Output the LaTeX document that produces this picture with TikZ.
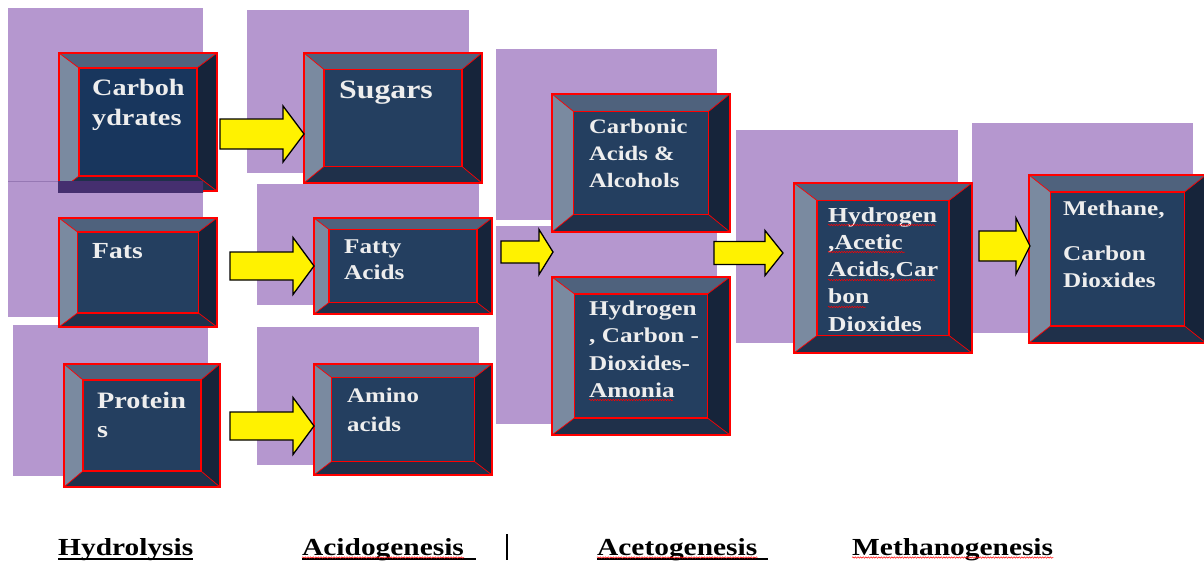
\documentclass[tikz,border=0pt]{standalone}
\usepackage{fontspec}
\setmainfont{Liberation Serif}
\newfontfamily\boxfont[FakeStretch=1.2]{Liberation Serif}
\usetikzlibrary{fit,calc,decorations.pathmorphing}

\definecolor{lilac}{RGB}{181,151,207}
\definecolor{lilacedge}{RGB}{150,120,180}
\definecolor{lilacband}{RGB}{69,47,111}
\definecolor{face}{RGB}{36,63,96}
\definecolor{facedeep}{RGB}{24,54,93}
\definecolor{bevtop}{RGB}{79,98,125}
\definecolor{bevleft}{RGB}{122,138,160}
\definecolor{bevright}{RGB}{22,36,58}
\definecolor{bevbottom}{RGB}{31,48,74}
\definecolor{boxtext}{RGB}{238,238,238}

% top-aligned lines, so that the node base is the first baseline
\newcommand{\boxlines}[1]{\begin{tabular}[t]{@{}l@{}}#1\end{tabular}}

\tikzset{
  bevx/.store in=\bevx, bevy/.store in=\bevy, bevx=20pt, bevy=15pt,
  abody/.store in=\abody, ahead/.store in=\ahead, alen/.store in=\alen,
  abody=14pt, ahead=28pt, alen=21pt,
  bevelbox/.style={draw=red, line width=1.4pt, fill=face, inner sep=0pt, outer sep=0pt,
    path picture={
      \coordinate (bnw) at (path picture bounding box.north west);
      \coordinate (bne) at (path picture bounding box.north east);
      \coordinate (bse) at (path picture bounding box.south east);
      \coordinate (bsw) at (path picture bounding box.south west);
      \coordinate (bnw2) at ([xshift=\bevx,yshift=-\bevy]bnw);
      \coordinate (bne2) at ([xshift=-\bevx,yshift=-\bevy]bne);
      \coordinate (bse2) at ([xshift=-\bevx,yshift=\bevy]bse);
      \coordinate (bsw2) at ([xshift=\bevx,yshift=\bevy]bsw);
      \fill[bevtop] (bnw) -- (bne) -- (bne2) -- (bnw2) -- cycle;
      \fill[bevleft] (bnw) -- (bnw2) -- (bsw2) -- (bsw) -- cycle;
      \fill[bevright] (bne) -- (bse) -- (bse2) -- (bne2) -- cycle;
      \fill[bevbottom] (bsw) -- (bsw2) -- (bse2) -- (bse) -- cycle;
      \draw[red, line width=0.7pt] (bnw) -- (bnw2) (bne) -- (bne2)
        (bse) -- (bse2) (bsw) -- (bsw2);
      \draw[red, line width=1.1pt] (bnw2) rectangle (bse2);
    }},
  boxtxt/.style 2 args={anchor=base west, inner sep=0pt, text=boxtext,
    font=\boxfont\bfseries\fontsize{#1}{#2}\selectfont},
  stage/.style={anchor=base west, inner sep=0pt,
    font=\boxfont\bfseries\fontsize{24.5}{29}\selectfont},
  blockarrow/.style={fill=yellow, draw=black, line width=1.3pt, line join=miter},
  uline/.style={line width=2.5pt},
  squig/.style={red, line width=0.5pt, decorate,
    decoration={snake, amplitude=0.7pt, segment length=2.6pt}},
}

% yellow block arrow: [opts]{from}{to}{y}{tail shift}{tip shift}
\newcommand{\yarrow}[6][]{%
  \draw[blockarrow,#1] let \p1=($(#2.east)+(#5,0)$), \p2=($(#3.west)+(#6,0)$),
      \p3=(0,#4) in
    (\x1,\y3+\abody) -- (\x2-\alen,\y3+\abody) -- (\x2-\alen,\y3+\ahead)
    -- (\x2,\y3) -- (\x2-\alen,\y3-\ahead) -- (\x2-\alen,\y3-\abody)
    -- (\x1,\y3-\abody) -- cycle;}

\begin{document}
\begin{tikzpicture}[x=1pt, y=-1pt]
\fill[white] (0,0) rectangle (1204,560);
\useasboundingbox (0,0) rectangle (1204,560);

% background panels
\fill[lilac] (8,8) rectangle (203,181);
\fill[lilac] (8,181) rectangle (203,317);
\draw[lilacedge, line width=0.6pt] (8,181) -- (59,181);
\fill[lilac] (13,325) rectangle (208,476);
\fill[lilac] (247,10) rectangle (469,173);
\fill[lilac] (257,184) rectangle (479,305);
\fill[lilac] (257,327) rectangle (479,465);
\fill[lilac] (496,49) rectangle (717,220);
\fill[lilac] (496,226) rectangle (717,424);
\fill[lilac] (736,130) rectangle (958,343);
\fill[lilac] (972,123) rectangle (1193,333);

% hydrolysis
\node[bevelbox, fill=facedeep, bevx=20pt, bevy=15pt, fit={(59,53) (217,191)}] (carb) {};
\begin{scope}
  \clip (8,181) rectangle (203,317);
  \fill[lilacband] ([shift={(-1,0)}]carb.north west) rectangle ([shift={(0,2)}]carb.south east);
\end{scope}
\node[bevelbox, bevx=18.5pt, bevy=14pt, fit={(59,218) (217,327)}] (fats) {};
\node[bevelbox, bevx=19pt, bevy=16pt, fit={(64,364) (220,487)}] (prot) {};
\node[boxtxt={23.5}{30}] (carbtxt) at ([shift={(33,42)}]carb.north west) {\boxlines{Carboh\\ydrates}};
\node[boxtxt={23}{28}] (fatstxt) at ([shift={(33,40)}]fats.north west) {Fats};
\node[boxtxt={23.5}{29}] (prottxt) at ([shift={(33,44)}]prot.north west) {\boxlines{Protein\\s}};

% acidogenesis
\node[bevelbox, bevx=20pt, bevy=16.5pt, fit={(304,53) (482,183)}] (sugar) {};
\node[bevelbox, bevx=15pt, bevy=11.5pt, fit={(314,218) (492,314)}] (fatty) {};
\node[bevelbox, bevx=17.5pt, bevy=13.5pt, fit={(314,364) (492,475)}] (amino) {};
\node[boxtxt={26.5}{32}] (sugartxt) at ([shift={(35,45)}]sugar.north west) {Sugars};
\node[boxtxt={21}{26}] (fattytxt) at ([shift={(30,35)}]fatty.north west) {\boxlines{Fatty\\Acids}};
\node[boxtxt={20.7}{29}] (aminotxt) at ([shift={(33,38)}]amino.north west) {\boxlines{Amino\\acids}};

% acetogenesis
\node[bevelbox, bevx=21.5pt, bevy=17.5pt, fit={(552,94) (730,232)}] (carbon) {};
\node[bevelbox, bevx=22.5pt, bevy=17pt, fit={(552,277) (730,435)}] (hyd) {};
\node[boxtxt={20.5}{27}] (carbontxt) at ([shift={(37,39)}]carbon.north west) {\boxlines{Carbonic\\Acids \&\\Alcohols}};
\node[boxtxt={21}{27.5}] (hydtxt) at ([shift={(37,38)}]hyd.north west) {\boxlines{Hydrogen\\, Carbon -\\Dioxides-\\Amonia}};
\draw[squig] ([shift={(0,85)}]hydtxt.base west) -- ++(84,0);

% methanogenesis
\node[bevelbox, bevx=23pt, bevy=17.5pt, fit={(794,183) (972,353)}] (acet) {};
\node[bevelbox, bevx=21.5pt, bevy=17pt, fit={(1029,175) (1206,343)}] (meth) {};
\node[boxtxt={21.3}{27.3}] (acettxt) at ([shift={(34,39)}]acet.north west) {\boxlines{Hydrogen\\,Acetic\\Acids,Car\\bon\\Dioxides}};
\draw[squig] ([shift={(0,3)}]acettxt.base west) -- ++(107,0);
\draw[squig] ([shift={(0,30)}]acettxt.base west) -- ++(77,0);
\draw[squig] ([shift={(0,58)}]acettxt.base west) -- ++(107,0);
\draw[squig] ([shift={(0,85)}]acettxt.base west) -- ++(38,0);
\node[boxtxt={21}{27}] (methtxt) at ([shift={(34,40)}]meth.north west) {\boxlines{Methane,\\[18pt]Carbon\\Dioxides}};

% arrows
\yarrow[abody=15pt, ahead=28pt, alen=21pt]{carb}{sugar}{134}{3}{0}
\yarrow[abody=14pt, ahead=28.5pt, alen=21pt]{fats}{fatty}{266}{13}{0}
\yarrow[abody=14pt, ahead=28.5pt, alen=21pt]{prot}{amino}{426}{10}{0}
\yarrow[abody=11pt, ahead=22.5pt, alen=14pt]{fatty}{carbon}{252}{9}{1}
\yarrow[abody=11.5pt, ahead=22.5pt, alen=18pt]{carbon}{acet}{253}{-16}{-11}
\yarrow[abody=15pt, ahead=28pt, alen=14pt]{acet}{meth}{246}{7}{1}

% stage names
\node[stage] (hydrol) at (58,555) {Hydrolysis};
\node[stage] (acido) at (302,555) {Acidogenesis};
\node[stage] (aceto) at (597,555) {Acetogenesis};
\node[stage] (methano) at (852,555) {Methanogenesis};
\draw[uline] ([shift={(0,4)}]hydrol.base west) -- ([shift={(0,4)}]hydrol.base east);
\draw[uline] ([shift={(0,4)}]acido.base west) -- ([shift={(12,4)}]acido.base east);
\draw[uline] ([shift={(0,4)}]aceto.base west) -- ([shift={(11,4)}]aceto.base east);
\draw[squig] ([shift={(0,2.5)}]acido.base west) -- ([shift={(0,2.5)}]acido.base east);
\draw[squig] ([shift={(0,2.5)}]aceto.base west) -- ([shift={(0,2.5)}]aceto.base east);
\draw[squig] ([shift={(0,2.5)}]methano.base west) -- ([shift={(0,2.5)}]methano.base east);
\draw[line width=2pt] (507,534) -- (507,560);
\end{tikzpicture}
\end{document}
